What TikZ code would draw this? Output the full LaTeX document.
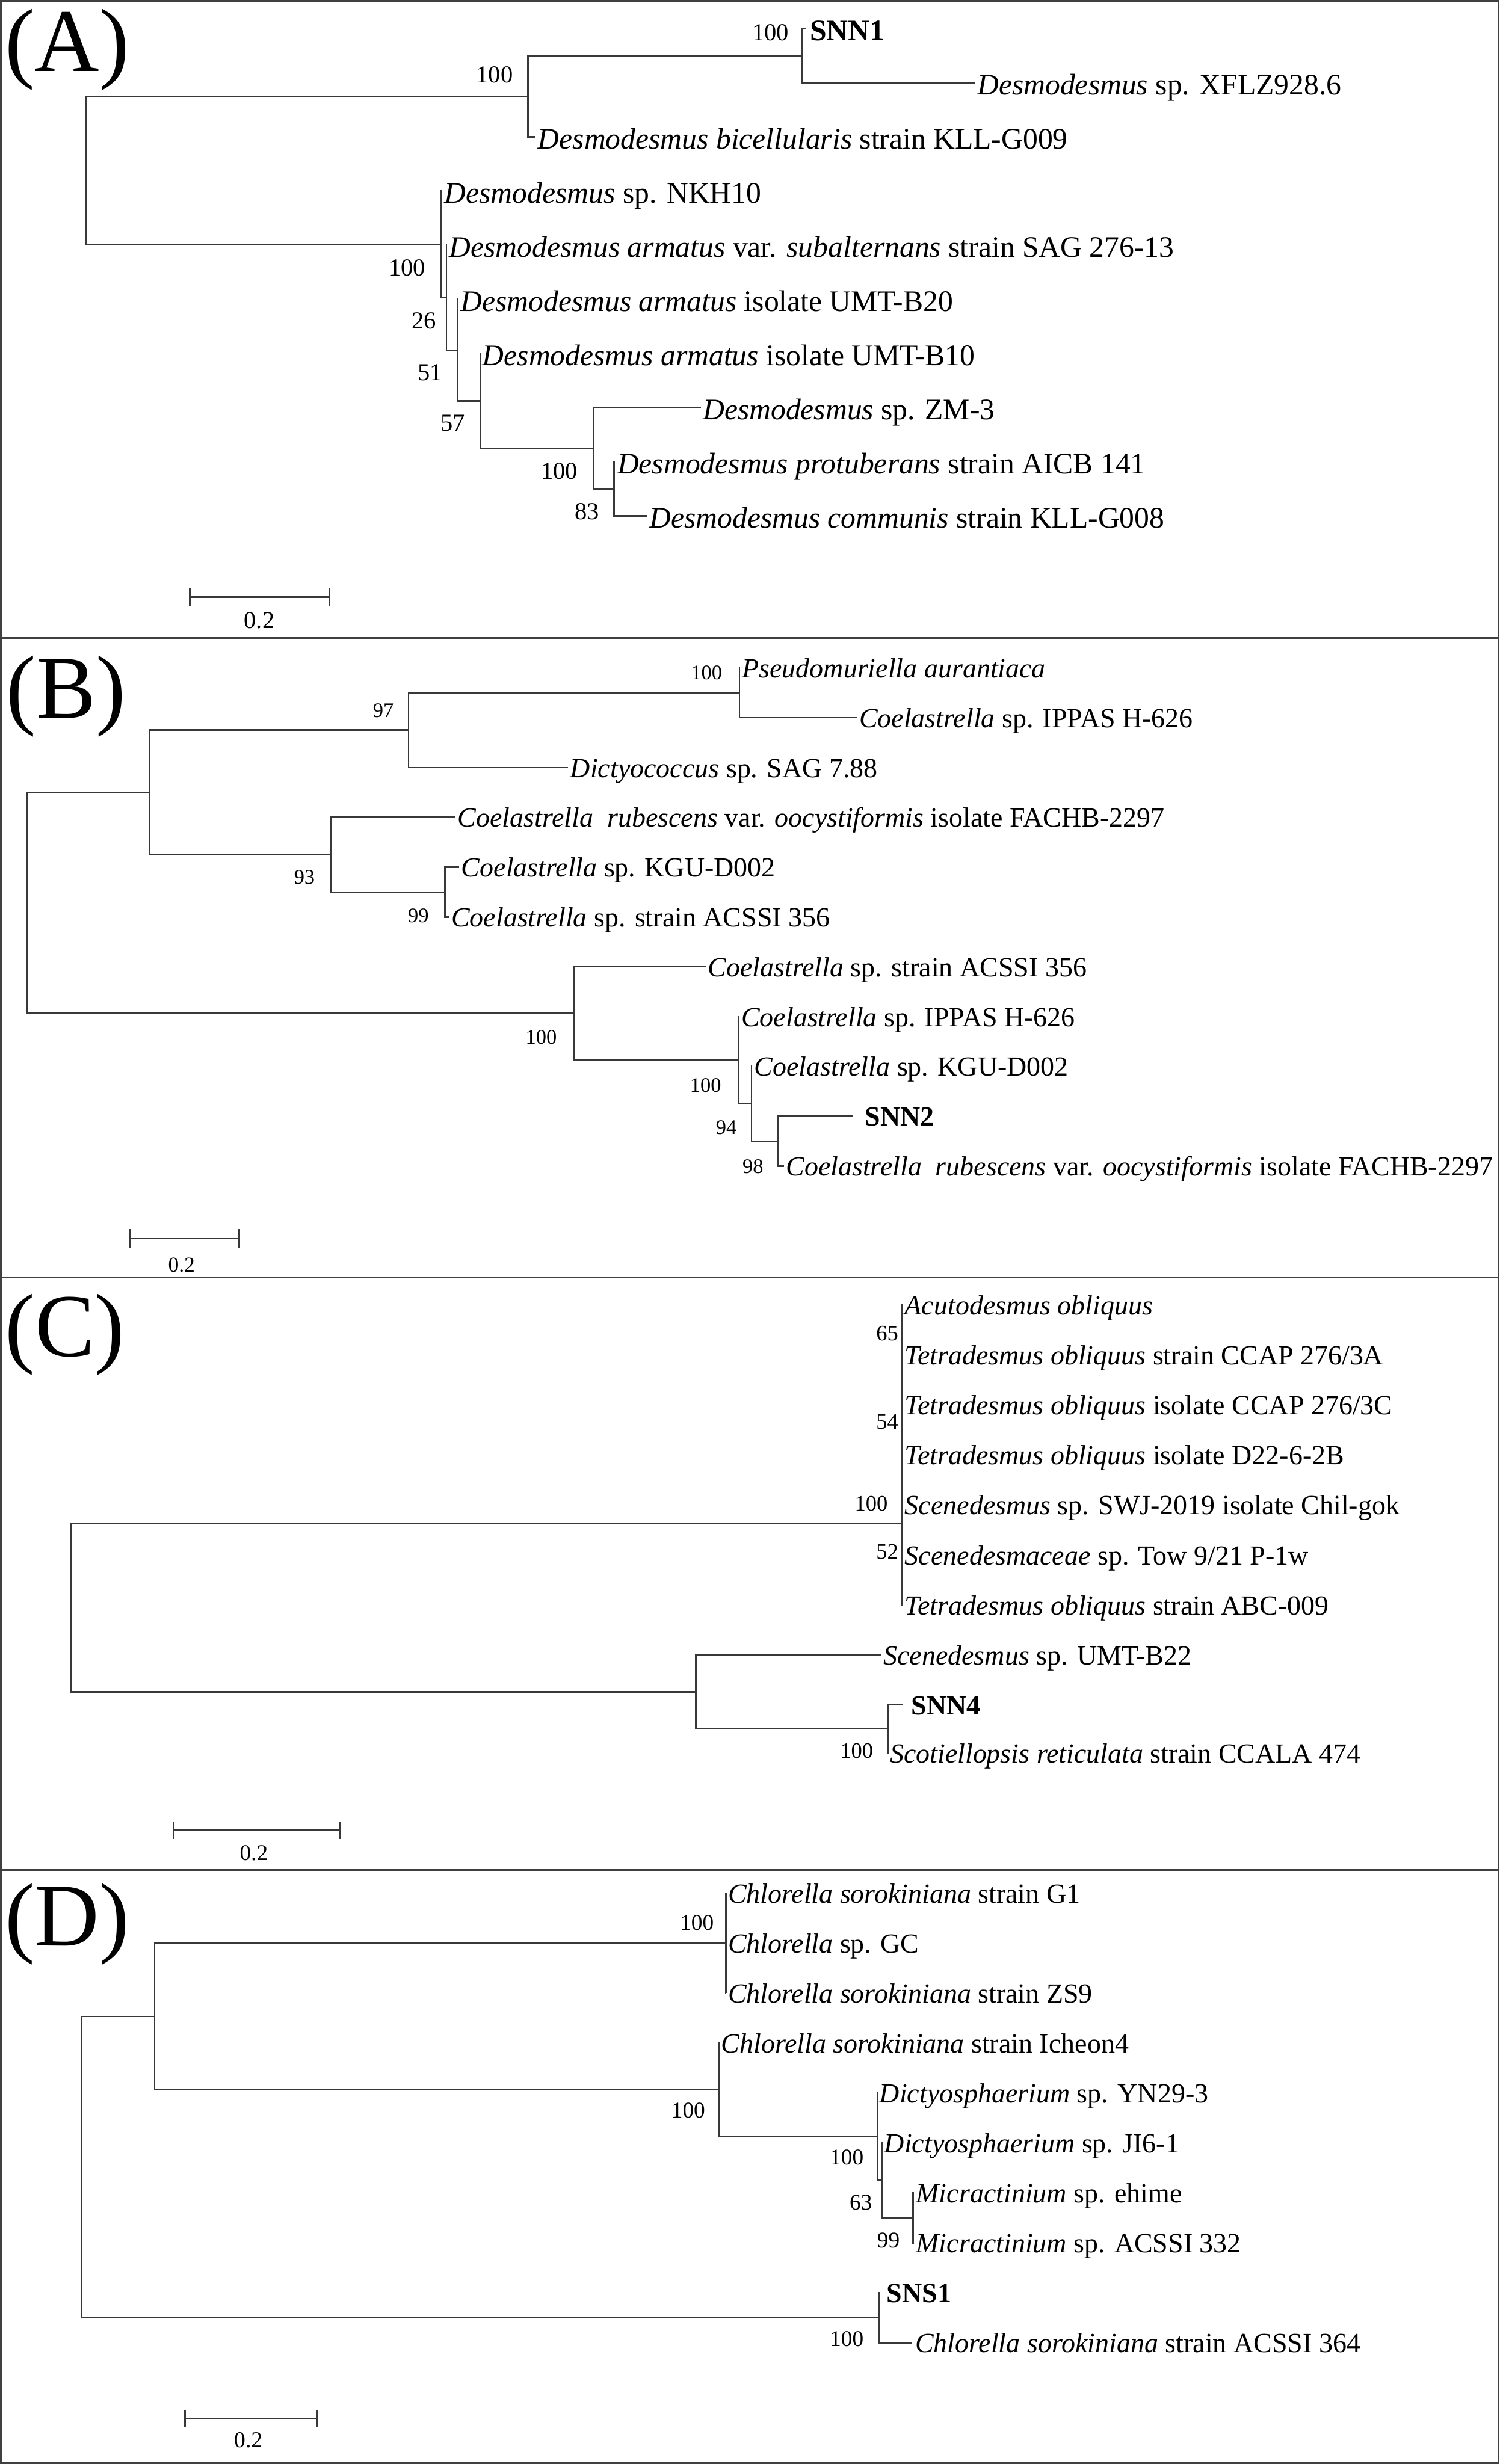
\documentclass[tikz,border=0pt]{standalone}
\usepackage{fontspec}
\setmainfont{Liberation Serif}
\begin{document}
\begin{tikzpicture}[x=1pt,y=-1pt,
  br/.style={line width=1pt, draw=black!78},
  frame/.style={line width=1.3pt, draw=black!75},
  sbar/.style={line width=1.1pt, draw=black!78},
  lfA/.style={anchor=west, inner xsep=1.2pt, inner ysep=0pt, text height=15pt, text depth=0pt, font=\fontsize{19pt}{22pt}\selectfont},
  lfB/.style={anchor=west, inner xsep=1.2pt, inner ysep=0pt, text height=12.4pt, text depth=0pt, font=\fontsize{17.6pt}{21pt}\selectfont},
  bsA/.style={anchor=east, inner sep=0pt, font=\fontsize{15.5pt}{18pt}\selectfont},
  bsB/.style={anchor=east, inner sep=0pt, font=\fontsize{13.2pt}{16pt}\selectfont},
  bsC/.style={anchor=east, inner sep=0pt, font=\fontsize{14pt}{17pt}\selectfont},
  bsD/.style={anchor=east, inner sep=0pt, font=\fontsize{14.3pt}{17pt}\selectfont},
  panel/.style={anchor=base west, inner sep=0pt, font=\fontsize{57pt}{62pt}\selectfont},
  sclbl/.style={inner sep=0pt, font=\fontsize{14.5pt}{17pt}\selectfont}
]
\useasboundingbox (0,0) rectangle (954,1568);
% frames
\draw[frame] (0.65,0.65) rectangle (953.35,1567.35);
\draw[frame] (0,406.2) -- (954,406.2);
\draw[frame] (0,813.0) -- (954,813.0);
\draw[frame] (0,1190.2) -- (954,1190.2);

% panel labels
\node[panel] (pA) at (3.0,45.5) {(A)};
\node[panel] (pB) at (4.0,457.0) {(B)};
\node[panel] (pC) at (3.2,863.0) {(C)};
\node[panel] (pD) at (3.0,1238.2) {(D)};

% ================= Panel A =================
\coordinate (rA) at (54.8,108.4);
\coordinate (nU) at (335.8,61.3);
\coordinate (nS) at (510.3,35.45);
\coordinate (n1) at (280.7,155.5);
\coordinate (n2) at (284.1,189.4);
\coordinate (n3) at (291.0,222.8);
\coordinate (n4) at (305.5,255.05);
\coordinate (n5) at (377.6,285.2);
\coordinate (n6) at (390.6,311.05);

\node[lfA, inner xsep=2.2pt] (a0) at (513,18.2) {\textbf{SNN1}};
\node[lfA] (a1) at (620.4,52.7) {\textit{Desmodesmus} sp. XFLZ928.6};
\node[lfA] (a2) at (340.8,87.1) {\textit{Desmodesmus bicellularis} strain KLL-G009};
\node[lfA] (a3) at (281.4,121.6) {\textit{Desmodesmus} sp. NKH10};
\node[lfA] (a4) at (284.4,156.0) {\textit{Desmodesmus armatus} var. \textit{subalternans} strain SAG 276-13};
\node[lfA] (a5) at (291.6,190.5) {\textit{Desmodesmus armatus} isolate UMT-B20};
\node[lfA] (a6) at (305.6,224.9) {\textit{Desmodesmus armatus} isolate UMT-B10};
\node[lfA] (a7) at (445.8,259.4) {\textit{Desmodesmus} sp. ZM-3};
\node[lfA] (a8) at (391.4,293.8) {\textit{Desmodesmus protuberans} strain AICB 141};
\node[lfA] (a9) at (411.8,328.3) {\textit{Desmodesmus communis} strain KLL-G008};

\draw[br] (rA) |- (nU);
\draw[br] (rA) |- (n1);
\draw[br] (nU) |- (nS);
\draw[br] (nU) |- (a2.west);
\draw[br] (nS) |- (a0.west);
\draw[br] (nS) |- (a1.west);
\draw[br] (n1) |- (a3.west);
\draw[br] (n1) |- (n2);
\draw[br] (n2) |- (a4.west);
\draw[br] (n2) |- (n3);
\draw[br] (n3) |- (a5.west);
\draw[br] (n3) |- (n4);
\draw[br] (n4) |- (a6.west);
\draw[br] (n4) |- (n5);
\draw[br] (n5) |- (a7.west);
\draw[br] (n5) |- (n6);
\draw[br] (n6) |- (a8.west);
\draw[br] (n6) |- (a9.west);

\node[bsA] (bA1) at (502,20.8) {100};
\node[bsA] (bA2) at (326.5,47.6) {100};
\node[bsA] (bA3) at (270.8,170.5) {100};
\node[bsA] (bA4) at (277.6,204) {26};
\node[bsA] (bA5) at (281.6,237) {51};
\node[bsA] (bA6) at (296,269.4) {57};
\node[bsA] (bA7) at (367.7,300) {100};
\node[bsA] (bA8) at (381.3,325.4) {83};

\coordinate (sA1) at (120.7,380);
\coordinate (sA2) at (209.5,380);
\draw[sbar] (sA1) -- (sA2);
\draw[sbar] ([yshift=6pt]sA1) -- ([yshift=-6pt]sA1);
\draw[sbar] ([yshift=6pt]sA2) -- ([yshift=-6pt]sA2);
\node[sclbl, font=\fontsize{15.4pt}{18pt}\selectfont] (lA) at (165,395) {0.2};

% ================= Panel B =================
\coordinate (rB) at (17,574.6);
\coordinate (m1) at (95.3,504.25);
\coordinate (m2) at (260,464.6);
\coordinate (m3) at (470.4,440.85);
\coordinate (m4) at (210.5,543.9);
\coordinate (m5) at (283.2,567.65);
\coordinate (m6) at (365.2,644.9);
\coordinate (m7) at (469.8,674.65);
\coordinate (m8) at (478.2,702.4);
\coordinate (m9) at (495,726.15);

\node[lfB] (b0) at (470.8,425.0) {\textit{Pseudomuriella aurantiaca}};
\node[lfB] (b1) at (545.3,456.7) {\textit{Coelastrella} sp. IPPAS H-626};
\node[lfB] (b2) at (361.5,488.4) {\textit{Dictyococcus} sp. SAG 7.88};
\node[lfB] (b3) at (289.8,520.1) {\textit{Coelastrella\ \ rubescens} var. \textit{oocystiformis} isolate FACHB-2297};
\node[lfB] (b4) at (292.2,551.8) {\textit{Coelastrella} sp. KGU-D002};
\node[lfB] (b5) at (285.8,583.5) {\textit{Coelastrella} sp. strain ACSSI 356};
\node[lfB] (b6) at (449.1,615.2) {\textit{Coelastrella} sp. strain ACSSI 356};
\node[lfB] (b7) at (470.3,646.9) {\textit{Coelastrella} sp. IPPAS H-626};
\node[lfB] (b8) at (478.6,678.6) {\textit{Coelastrella} sp. KGU-D002};
\node[lfB, inner xsep=7.4pt] (b9) at (542.8,710.3) {\textbf{SNN2}};
\node[lfB] (b10) at (498.7,742.0) {\textit{Coelastrella\ \ rubescens} var. \textit{oocystiformis} isolate FACHB-2297};

\draw[br] (rB) |- (m1);
\draw[br] (rB) |- (m6);
\draw[br] (m1) |- (m2);
\draw[br] (m1) |- (m4);
\draw[br] (m2) |- (m3);
\draw[br] (m2) |- (b2.west);
\draw[br] (m3) |- (b0.west);
\draw[br] (m3) |- (b1.west);
\draw[br] (m4) |- (b3.west);
\draw[br] (m4) |- (m5);
\draw[br] (m5) |- (b4.west);
\draw[br] (m5) |- (b5.west);
\draw[br] (m6) |- (b6.west);
\draw[br] (m6) |- (m7);
\draw[br] (m7) |- (b7.west);
\draw[br] (m7) |- (m8);
\draw[br] (m8) |- (b8.west);
\draw[br] (m8) |- (m9);
\draw[br] (m9) |- (b9.west);
\draw[br] (m9) |- (b10.west);

\node[bsB] (bB1) at (250.7,452.2) {97};
\node[bsB] (bB2) at (459.6,428.1) {100};
\node[bsB] (bB3) at (200.5,558.2) {93};
\node[bsB] (bB4) at (273,582.6) {99};
\node[bsB] (bB5) at (354.4,659.9) {100};
\node[bsB] (bB6) at (459,690.5) {100};
\node[bsB] (bB7) at (468.9,717.5) {94};
\node[bsB] (bB8) at (485.8,742.4) {98};

\coordinate (sB1) at (83,788.2);
\coordinate (sB2) at (152.3,788.2);
\draw[sbar] (sB1) -- (sB2);
\draw[sbar] ([yshift=6pt]sB1) -- ([yshift=-6pt]sB1);
\draw[sbar] ([yshift=6pt]sB2) -- ([yshift=-6pt]sB2);
\node[sclbl, font=\fontsize{13.6pt}{16pt}\selectfont] (lB) at (115.5,805.2) {0.2};

% ================= Panel C =================
\coordinate (rC) at (44.9,1023.15);
\coordinate (k1) at (574.1,969.6);
\coordinate (k2) at (442.6,1076.7);
\coordinate (k3) at (565,1100.2);

\node[lfB] (c0) at (574.3,830.5) {\textit{Acutodesmus obliquus}};
\node[lfB] (c1) at (574.3,862.3) {\textit{Tetradesmus obliquus} strain CCAP 276/3A};
\node[lfB] (c2) at (574.3,894.1) {\textit{Tetradesmus obliquus} isolate CCAP 276/3C};
\node[lfB] (c3) at (574.3,925.9) {\textit{Tetradesmus obliquus} isolate D22-6-2B};
\node[lfB] (c4) at (574.3,957.7) {\textit{Scenedesmus} sp. SWJ-2019 isolate Chil-gok};
\node[lfB] (c5) at (574.3,989.5) {\textit{Scenedesmaceae} sp. Tow 9/21 P-1w};
\node[lfB] (c6) at (574.3,1021.3) {\textit{Tetradesmus obliquus} strain ABC-009};
\node[lfB, inner xsep=1.6pt] (c7) at (560.3,1053.1) {\textit{Scenedesmus} sp. UMT-B22};
\node[lfB, inner xsep=5.6pt] (c8) at (574.1,1084.9) {\textbf{SNN4}};
\node[lfB, inner xsep=0.8pt] (c9) at (565.2,1115.5) {\textit{Scotiellopsis reticulata} strain CCALA 474};

\draw[br] (rC) |- (k1);
\draw[br] (rC) |- (k2);
\draw[br] (k1) |- (c0.west);
\draw[br] (k1) |- (c1.west);
\draw[br] (k1) |- (c2.west);
\draw[br] (k1) |- (c3.west);
\draw[br] (k1) |- (c4.west);
\draw[br] (k1) |- (c5.west);
\draw[br] (k1) |- (c6.west);
\draw[br] (k2) |- (c7.west);
\draw[br] (k2) |- (k3);
\draw[br] (k3) |- (c8.west);
\draw[br] (k3) |- (c9.west);

\node[bsC] (bC1) at (571.7,848.5) {65};
\node[bsC] (bC2) at (571.7,904.8) {54};
\node[bsC] (bC3) at (565,957) {100};
\node[bsC] (bC4) at (571.7,987.3) {52};
\node[bsC] (bC5) at (555.7,1114.1) {100};

\coordinate (sC1) at (110.5,1164.6);
\coordinate (sC2) at (216,1164.6);
\draw[sbar] (sC1) -- (sC2);
\draw[sbar] ([yshift=5.6pt]sC1) -- ([yshift=-5.6pt]sC1);
\draw[sbar] ([yshift=5.6pt]sC2) -- ([yshift=-5.6pt]sC2);
\node[sclbl, font=\fontsize{14.3pt}{17pt}\selectfont] (lC) at (161.5,1179) {0.2};

% ================= Panel D =================
\coordinate (rD) at (51.7,1379.1);
\coordinate (q1) at (98.4,1283.2);
\coordinate (q2) at (461.8,1236.5);
\coordinate (q3) at (457.4,1329.9);
\coordinate (q4) at (558.2,1359.7);
\coordinate (q5) at (561.3,1387.55);
\coordinate (q6) at (580.9,1411.4);
\coordinate (q7) at (559.4,1475.0);

\node[lfB, inner xsep=1pt] (d0) at (462.0,1204.7) {\textit{Chlorella sorokiniana} strain G1};
\node[lfB, inner xsep=1pt] (d1) at (462.0,1236.5) {\textit{Chlorella} sp. GC};
\node[lfB, inner xsep=1pt] (d2) at (462.0,1268.3) {\textit{Chlorella sorokiniana} strain ZS9};
\node[lfB, inner xsep=1pt] (d3) at (457.7,1300.1) {\textit{Chlorella sorokiniana} strain Icheon4};
\node[lfB, inner xsep=1pt] (d4) at (558.4,1331.9) {\textit{Dictyosphaerium} sp. YN29-3};
\node[lfB, inner xsep=1pt] (d5) at (561.5,1363.7) {\textit{Dictyosphaerium} sp. JI6-1};
\node[lfB] (d6) at (581.5,1395.5) {\textit{Micractinium} sp. ehime};
\node[lfB] (d7) at (581.5,1427.3) {\textit{Micractinium} sp. ACSSI 332};
\node[lfB, inner xsep=3.8pt] (d8) at (560.2,1459.1) {\textbf{SNS1}};
\node[lfB, inner xsep=1.8pt] (d9) at (580.3,1490.9) {\textit{Chlorella sorokiniana} strain ACSSI 364};

\draw[br] (rD) |- (q1);
\draw[br] (rD) |- (q7);
\draw[br] (q1) |- (q2);
\draw[br] (q1) |- (q3);
\draw[br] (q2) |- (d0.west);
\draw[br] (q2) |- (d1.west);
\draw[br] (q2) |- (d2.west);
\draw[br] (q3) |- (d3.west);
\draw[br] (q3) |- (q4);
\draw[br] (q4) |- (d4.west);
\draw[br] (q4) |- (q5);
\draw[br] (q5) |- (d5.west);
\draw[br] (q5) |- (q6);
\draw[br] (q6) |- (d6.west);
\draw[br] (q6) |- (d7.west);
\draw[br] (q7) |- (d8.west);
\draw[br] (q7) |- (d9.west);

\node[bsD] (bD1) at (454.3,1223.5) {100};
\node[bsD] (bD2) at (448.8,1342.9) {100};
\node[bsD] (bD3) at (549.6,1372.9) {100};
\node[bsD] (bD4) at (555.1,1401.4) {63};
\node[bsD] (bD5) at (572.6,1425.7) {99};
\node[bsD] (bD6) at (549.6,1488.6) {100};

\coordinate (sD1) at (117.6,1539);
\coordinate (sD2) at (201.8,1539);
\draw[sbar] (sD1) -- (sD2);
\draw[sbar] ([yshift=5.5pt]sD1) -- ([yshift=-5.5pt]sD1);
\draw[sbar] ([yshift=5.5pt]sD2) -- ([yshift=-5.5pt]sD2);
\node[sclbl, font=\fontsize{14.4pt}{17pt}\selectfont] (lD) at (158,1552.8) {0.2};
\end{tikzpicture}
\end{document}
